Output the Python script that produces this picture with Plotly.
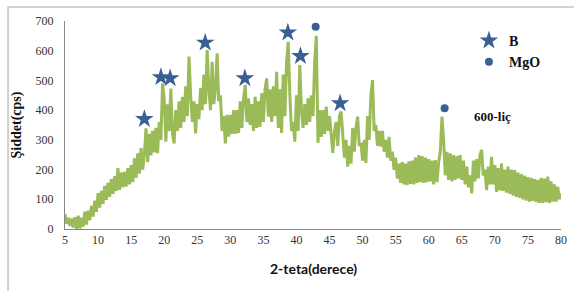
import plotly.graph_objects as go

# 2-theta grid (degrees), 0.25 step from 5 to 80
two_theta = [5 + 0.25 * i for i in range(301)]

# intensity (cps), 4 values per degree
intensity = [
    50, 18, 38, 10,      # 5
    35, 5, 40, 0,        # 6
    45, 2, 38, 8,        # 7
    58, 15, 62, 30,      # 8
    78, 42, 95, 58,      # 9
    121, 72, 128, 85,    # 10
    145, 98, 155, 108,   # 11
    168, 118, 178, 128,  # 12
    205, 132, 190, 140,  # 13
    192, 143, 205, 150,  # 14
    215, 158, 238, 172,  # 15
    255, 186, 272, 200,  # 16
    250, 339, 225, 320,  # 17
    248, 330, 258, 340,  # 18
    255, 360, 300, 490,  # 19
    440, 294, 420, 330,  # 20
    473, 320, 288, 400,  # 21
    330, 430, 340, 445,  # 22
    360, 480, 380, 580,  # 23
    450, 360, 430, 322,  # 24
    420, 370, 475, 400,  # 25
    520, 420, 602, 470,  # 26
    400, 563, 420, 470,  # 27
    591, 430, 450, 330,  # 28
    380, 288, 384, 311,  # 29
    384, 320, 400, 320,  # 30
    400, 323, 430, 340,  # 31
    440, 485, 360, 440,  # 32
    350, 420, 330, 445,  # 33
    340, 430, 344, 457,  # 34
    360, 470, 507, 378,  # 35
    470, 360, 480, 380,  # 36
    529, 340, 470, 323,  # 37
    520, 380, 560, 630,  # 38
    450, 330, 360, 294,  # 39
    450, 330, 552, 400,  # 40
    340, 420, 350, 440,  # 41
    360, 450, 380, 560,  # 42
    650, 290, 400, 310,  # 43
    400, 320, 412, 330,  # 44
    380, 300, 256, 330,  # 45
    360, 280, 380, 395,  # 46
    300, 240, 300, 210,  # 47
    280, 220, 340, 260,  # 48
    340, 378, 280, 290,  # 49
    230, 300, 222, 380,  # 50
    300, 450, 501, 330,  # 51
    350, 280, 330, 277,  # 52
    330, 260, 300, 240,  # 53
    310, 230, 260, 199,  # 54
    240, 170, 220, 155,  # 55
    225, 150, 220, 148,  # 56
    228, 152, 230, 150,  # 57
    240, 155, 249, 158,  # 58
    245, 155, 240, 158,  # 59
    235, 160, 230, 150,  # 60
    232, 158, 225, 260,  # 61
    378, 300, 180, 260,  # 62
    165, 255, 160, 249,  # 63
    165, 245, 170, 249,  # 64
    165, 230, 150, 210,  # 65
    140, 180, 120, 230,  # 66
    160, 235, 170, 250,  # 67
    266, 180, 200, 131,  # 68
    210, 150, 243, 150,  # 69
    215, 125, 205, 130,  # 70
    220, 128, 200, 122,  # 71
    210, 118, 200, 112,  # 72
    198, 108, 190, 105,  # 73
    185, 100, 180, 95,   # 74
    175, 92, 172, 95,    # 75
    168, 90, 165, 88,    # 76
    172, 88, 170, 90,    # 77
    176, 88, 160, 92,    # 78
    150, 92, 142, 100,   # 79
    120,                 # 80
]

# phase marks
b_x = [17.0, 19.5, 20.9, 26.2, 32.2, 38.7, 40.6, 46.6]
b_y = [370, 511, 507, 627, 507, 661, 582, 423]
mgo_x = [42.9, 62.4]
mgo_y = [681, 406]

x_ticks = list(range(5, 81, 5))
y_ticks = list(range(0, 701, 100))

GREEN = "#9BBB59"
BLUE = "#3A5F95"
SERIF = "Liberation Serif"

fig = go.Figure()
fig.add_trace(go.Scatter(x=two_theta, y=intensity, mode="lines",
                         line=dict(color=GREEN, width=3), showlegend=False,
                         hoverinfo="skip"))
fig.add_trace(go.Scatter(x=b_x, y=b_y, mode="markers", name="<b>B</b>",
                         marker=dict(symbol="star", size=14, color=BLUE)))
fig.add_trace(go.Scatter(x=mgo_x, y=mgo_y, mode="markers", name="<b>MgO</b>",
                         marker=dict(symbol="circle", size=8, color=BLUE)))

L, R, T, B = 65, 13, 21, 62
W, H = 579, 291
pw, ph = W - L - R, H - T - B


def px(xp):
    return (xp - L) / pw


def py(yp):
    return (H - B - yp) / ph


fig.update_layout(
    width=W, height=H,
    margin=dict(l=L, r=R, t=T, b=B, pad=0),
    paper_bgcolor="white", plot_bgcolor="white",
    showlegend=True,
    legend=dict(x=px(473), y=py(25), xanchor="left", yanchor="top",
                font=dict(family=SERIF, size=14, color="#111"),
                bgcolor="rgba(0,0,0,0)", itemwidth=30),
    xaxis=dict(range=[5, 80], tickvals=x_ticks, ticktext=[str(v) for v in x_ticks],
               showgrid=False, zeroline=False, showline=True, linecolor="#868686",
               linewidth=1, ticks="", tickfont=dict(family=SERIF, size=12, color="#333")),
    yaxis=dict(range=[0, 700], tickvals=y_ticks, ticktext=[str(v) for v in y_ticks],
               showgrid=False, zeroline=False, showline=True, linecolor="#868686",
               linewidth=1, ticks="", ticklabelstandoff=8,
               tickfont=dict(family=SERIF, size=12, color="#333")),
    annotations=[
        dict(text="<b>Şiddet(cps)</b>", xref="paper", yref="paper",
             x=px(17), y=py(125), textangle=-90, showarrow=False,
             font=dict(family=SERIF, size=14, color="#111"),
             xanchor="center", yanchor="middle"),
        dict(text="<b>2-teta(derece)</b>", xref="paper", yref="paper",
             x=px(316), y=py(268), showarrow=False,
             font=dict(family="Lato", size=14, color="#111"),
             xanchor="center", yanchor="middle"),
        dict(text="<b>600-liç</b>", xref="paper", yref="paper",
             x=px(497), y=py(116), showarrow=False,
             font=dict(family=SERIF, size=13, color="#111"),
             xanchor="center", yanchor="middle"),
    ],
    shapes=[
        dict(type="line", xref="paper", yref="paper", x0=px(7), x1=px(579),
             y0=py(7), y1=py(7), line=dict(color="#A6A6A6", width=1)),
        dict(type="line", xref="paper", yref="paper", x0=px(7.5), x1=px(7.5),
             y0=py(7), y1=py(291), line=dict(color="#D0D0D0", width=2)),
    ],
)

fig.write_html("out.html", config={"displayModeBar": False},
               post_script="document.body.style.margin='0';document.body.style.padding='0';")
